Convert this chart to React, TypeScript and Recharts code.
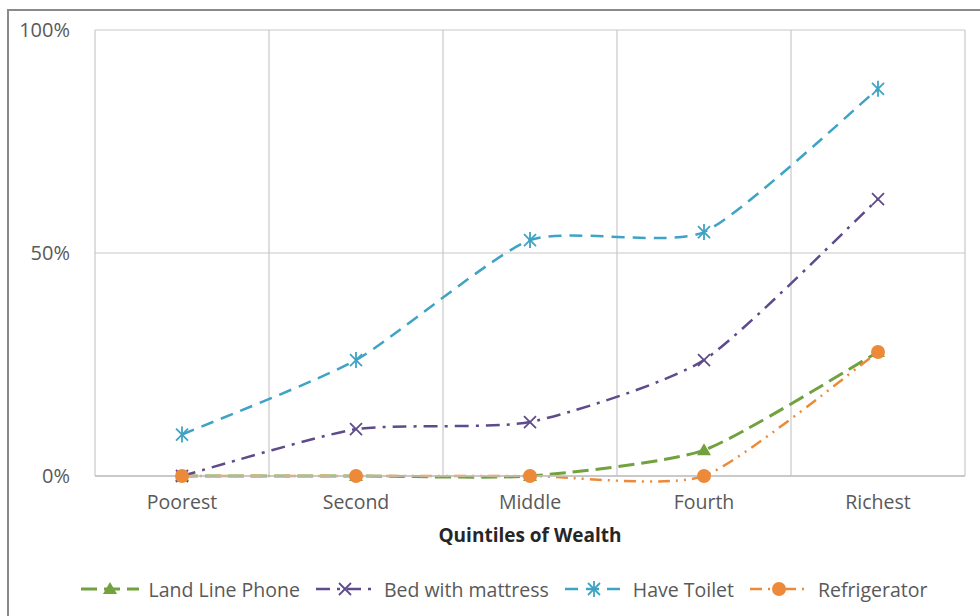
import React from "react";
import { LineChart, Line, XAxis, YAxis, CartesianGrid, ReferenceLine } from "recharts";

// quintile categories sit at the band centres 0.5 .. 4.5 on a 0..5 axis
const quintiles = ["Poorest", "Second", "Middle", "Fourth", "Richest"];
const positions = [0.5, 1.5, 2.5, 3.5, 4.5];
const bandEdges = [0, 1, 2, 3, 4, 5];

const landLinePhone = [0, 0, 0, 0.058, 0.278];
const bedWithMattress = [0, 0.105, 0.121, 0.26, 0.621];
const haveToilet = [0.093, 0.26, 0.529, 0.547, 0.868];
const refrigerator = [0, 0, 0, 0, 0.278];

const yTicks = [0, 0.5, 1];

const GREEN = "#72a13f";
const PURPLE = "#5e4b8b";
const TEAL = "#3ea3c4";
const ORANGE = "#ed8a3a";
const TEXT = "#595959";
const FONT = "'Open Sans', 'Liberation Sans', sans-serif";

const chartData = quintiles.map((name, i) => ({
    name,
    pos: positions[i],
    landLine: landLinePhone[i],
    bed: bedWithMattress[i],
    toilet: haveToilet[i],
    fridge: refrigerator[i],
}));

const series = [
    { key: "landLine", label: "Land Line Phone", color: GREEN, dash: "16 7", width: 3, marker: "triangle" },
    { key: "bed", label: "Bed with mattress", color: PURPLE, dash: "14 7 3 7", width: 2.5, marker: "x" },
    { key: "toilet", label: "Have Toilet", color: TEAL, dash: "13 8", width: 2.5, marker: "star" },
    { key: "fridge", label: "Refrigerator", color: ORANGE, dash: "12 6 2 6 2 6", width: 2.5, marker: "circle" },
];

// lightly smoothed line through every point (cardinal spline, tight tension)
const SMOOTH = 1 / 10;
function smoothCurve(context: any) {
    let pts: number[][] = [];
    return {
        areaStart() {},
        areaEnd() {},
        lineStart() {
            pts = [];
        },
        point(x: number, y: number) {
            pts.push([+x, +y]);
        },
        lineEnd() {
            if (!pts.length) return;
            context.moveTo(pts[0][0], pts[0][1]);
            for (let i = 0; i < pts.length - 1; i++) {
                const p0 = pts[Math.max(i - 1, 0)];
                const p1 = pts[i];
                const p2 = pts[i + 1];
                const p3 = pts[Math.min(i + 2, pts.length - 1)];
                context.bezierCurveTo(
                    p1[0] + (p2[0] - p0[0]) * SMOOTH,
                    p1[1] + (p2[1] - p0[1]) * SMOOTH,
                    p2[0] - (p3[0] - p1[0]) * SMOOTH,
                    p2[1] - (p3[1] - p1[1]) * SMOOTH,
                    p2[0],
                    p2[1]
                );
            }
        },
    };
}

function Marker({ type, x, y, color }: { type: string; x: number; y: number; color: string }) {
    if (type === "triangle") {
        return <polygon points={`${x},${y - 7} ${x + 7},${y + 5} ${x - 7},${y + 5}`} fill={color} />;
    }
    if (type === "x") {
        return (
            <g stroke={color} strokeWidth={1.8}>
                <line x1={x - 6} y1={y - 6} x2={x + 6} y2={y + 6} />
                <line x1={x - 6} y1={y + 6} x2={x + 6} y2={y - 6} />
            </g>
        );
    }
    if (type === "star") {
        return (
            <g stroke={color} strokeWidth={1.8}>
                <line x1={x - 6} y1={y - 6} x2={x + 6} y2={y + 6} />
                <line x1={x - 6} y1={y + 6} x2={x + 6} y2={y - 6} />
                <line x1={x} y1={y - 8} x2={x} y2={y + 8} />
            </g>
        );
    }
    return <circle cx={x} cy={y} r={7} fill={color} />;
}

const makeDot = (type: string, color: string) => (props: any) => {
    const { cx, cy, index } = props;
    if (cx == null || cy == null) return <g key={index} />;
    return <Marker key={index} type={type} x={cx} y={cy} color={color} />;
};

function ChartLegend() {
    return (
        <div
            style={{
                position: "absolute",
                top: 575,
                left: 0,
                width: 1006,
                display: "flex",
                justifyContent: "center",
                gap: 14,
                fontFamily: FONT,
                fontSize: 19.5,
                color: TEXT,
            }}
        >
            {series.map((s) => (
                <div key={s.key} style={{ display: "flex", alignItems: "center", gap: 8 }}>
                    <svg width={62} height={28}>
                        <line x1={2} y1={14} x2={60} y2={14} stroke={s.color} strokeWidth={s.width} strokeDasharray={s.dash} />
                        <Marker type={s.marker} x={31} y={14} color={s.color} />
                    </svg>
                    <span>{s.label}</span>
                </div>
            ))}
        </div>
    );
}

export default function App() {
    return (
        <div style={{ position: "fixed", left: 0, top: 0, width: 980, height: 616, background: "#fff", overflow: "hidden" }}>
            {/* outer frame, only left and top edges fall inside the view */}
            <div
                style={{
                    position: "absolute",
                    left: 7,
                    top: 9,
                    width: 1000,
                    height: 700,
                    borderLeft: "2px solid #8a8a8a",
                    borderTop: "2px solid #8a8a8a",
                }}
            />
            <div style={{ position: "absolute", left: 0, top: 0 }}>
                <LineChart
                    width={980}
                    height={616}
                    data={chartData}
                    margin={{ top: 30, right: 15, left: 0, bottom: 72 }}
                >
                    <CartesianGrid horizontal vertical={false} stroke="#c8c8c8" strokeWidth={1.2} />
                    {bandEdges.map((x) => (
                        <ReferenceLine key={x} x={x} stroke="#c8c8c8" strokeWidth={1.2} />
                    ))}
                    <XAxis
                        dataKey="pos"
                        type="number"
                        domain={[0, 5]}
                        ticks={positions}
                        tickFormatter={(v: number) => quintiles[Math.floor(v)]}
                        axisLine={{ stroke: "#c0c0c0", strokeWidth: 1.5 }}
                        tickLine={false}
                        tick={{ fill: TEXT, fontSize: 19.5, fontFamily: FONT }}
                        tickMargin={13}
                        height={68}
                        label={{
                            value: "Quintiles of Wealth",
                            position: "insideBottom",
                            offset: 2,
                            style: { fill: "#262626", fontSize: 19, fontWeight: 700, fontFamily: FONT },
                        }}
                    />
                    <YAxis
                        type="number"
                        domain={[0, 1]}
                        ticks={yTicks}
                        tickFormatter={(v: number) => `${Math.round(v * 100)}%`}
                        axisLine={false}
                        tickLine={false}
                        tick={{ fill: TEXT, fontSize: 20, fontFamily: FONT }}
                        tickMargin={19}
                        width={95}
                    />
                    {series.map((s) => (
                        <Line
                            key={s.key}
                            dataKey={s.key}
                            type={smoothCurve as any}
                            stroke={s.color}
                            strokeWidth={s.width}
                            strokeDasharray={s.dash}
                            dot={makeDot(s.marker, s.color)}
                            activeDot={false}
                            isAnimationActive={false}
                        />
                    ))}
                </LineChart>
            </div>
            <ChartLegend />
        </div>
    );
}
